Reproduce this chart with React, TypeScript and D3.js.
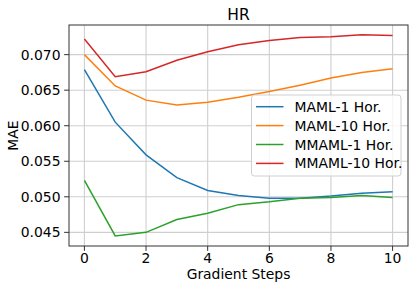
import React from "react";
import * as d3 from "d3";

const steps = [0, 1, 2, 3, 4, 5, 6, 7, 8, 9, 10];
const seriesNames = ["MAML-1 Hor.", "MAML-10 Hor.", "MMAML-1 Hor.", "MMAML-10 Hor."];
const maml1 = [0.0679, 0.0605, 0.0559, 0.0527, 0.0509, 0.0502, 0.0498, 0.0498, 0.0501, 0.0505, 0.0507];
const maml10 = [0.0700, 0.0656, 0.0636, 0.0629, 0.0633, 0.0640, 0.0648, 0.0657, 0.0667, 0.0675, 0.0680];
const mmaml1 = [0.0523, 0.0445, 0.0450, 0.0468, 0.0477, 0.0489, 0.0493, 0.0498, 0.0499, 0.0502, 0.0499];
const mmaml10 = [0.0722, 0.0669, 0.0676, 0.0692, 0.0704, 0.0714, 0.0720, 0.0724, 0.0725, 0.0728, 0.0727];
const colors = ["#1f77b4", "#ff7f0e", "#2ca02c", "#d62728"];
const xTicks = [0, 2, 4, 6, 8, 10];
const yTicks = [0.045, 0.05, 0.055, 0.06, 0.065, 0.07];

const FONT = "DejaVu Sans";

export default function App() {
  const W = 415, H = 290;
  const left = 69, right = 408, top = 25, bottom = 246;
  const x = d3.scaleLinear().domain([-0.5, 10.5]).range([left, right]);
  const y = d3.scaleLinear().domain([0.04308, 0.07417]).range([bottom, top]);
  const all = [maml1, maml10, mmaml1, mmaml10];
  const line = d3.line<number>().x((_, i) => x(steps[i])).y((d) => y(d));
  const fmt = d3.format(".3f");
  const legX = 251.5, legY = 95, legW = 149.5, legH = 81;
  const rowY = (i: number) => 106.7 + i * 18.9;
  return (
    <svg width={W} height={H} style={{ position: "absolute", left: 0, top: 0, background: "#fff" }} fontFamily={FONT}>
      <rect x={0} y={0} width={W} height={H} fill="#fff" />
      {xTicks.map((t) => (
        <line key={"gx" + t} x1={x(t)} x2={x(t)} y1={top} y2={bottom} stroke="#cfcfcf" strokeWidth={1.1} />
      ))}
      {yTicks.map((t) => (
        <line key={"gy" + t} x1={left} x2={right} y1={y(t)} y2={y(t)} stroke="#cfcfcf" strokeWidth={1.1} />
      ))}
      {all.map((s, i) => (
        <path key={"s" + i} d={line(s) || ""} fill="none" stroke={colors[i]} strokeWidth={1.5} />
      ))}
      <rect x={left} y={top} width={right - left} height={bottom - top} fill="none" stroke="#333" strokeWidth={1} />
      {xTicks.map((t) => (
        <g key={"xt" + t}>
          <line x1={x(t)} x2={x(t)} y1={bottom} y2={bottom + 4.9} stroke="#333" strokeWidth={1} />
          <text x={x(t)} y={262.5} textAnchor="middle" fontSize={13.9} fill="#000">{t}</text>
        </g>
      ))}
      {yTicks.map((t) => (
        <g key={"yt" + t}>
          <line x1={left - 4.9} x2={left} y1={y(t)} y2={y(t)} stroke="#333" strokeWidth={1} />
          <text x={60.5} y={y(t) + 5} textAnchor="end" fontSize={13.9} fill="#000">{fmt(t)}</text>
        </g>
      ))}
      <text x={(left + right) / 2} y={19.5} textAnchor="middle" fontSize={15.5} fill="#000">HR</text>
      <text x={(left + right) / 2} y={279} textAnchor="middle" fontSize={13.9} fill="#000">Gradient Steps</text>
      <text transform={`translate(17.5, ${(top + bottom) / 2}) rotate(-90)`} textAnchor="middle" fontSize={13.9} fill="#000">MAE</text>
      <rect x={legX} y={legY} width={legW} height={legH} rx={3} fill="#fff" fillOpacity={0.8} stroke="#d0d0d0" strokeWidth={1} />
      {seriesNames.map((n, i) => (
        <g key={"lg" + i}>
          <line x1={256} x2={283.5} y1={rowY(i)} y2={rowY(i)} stroke={colors[i]} strokeWidth={1.5} />
          <text x={294.5} y={rowY(i) + 5} fontSize={13.9} fill="#000">{n}</text>
        </g>
      ))}
    </svg>
  );
}
